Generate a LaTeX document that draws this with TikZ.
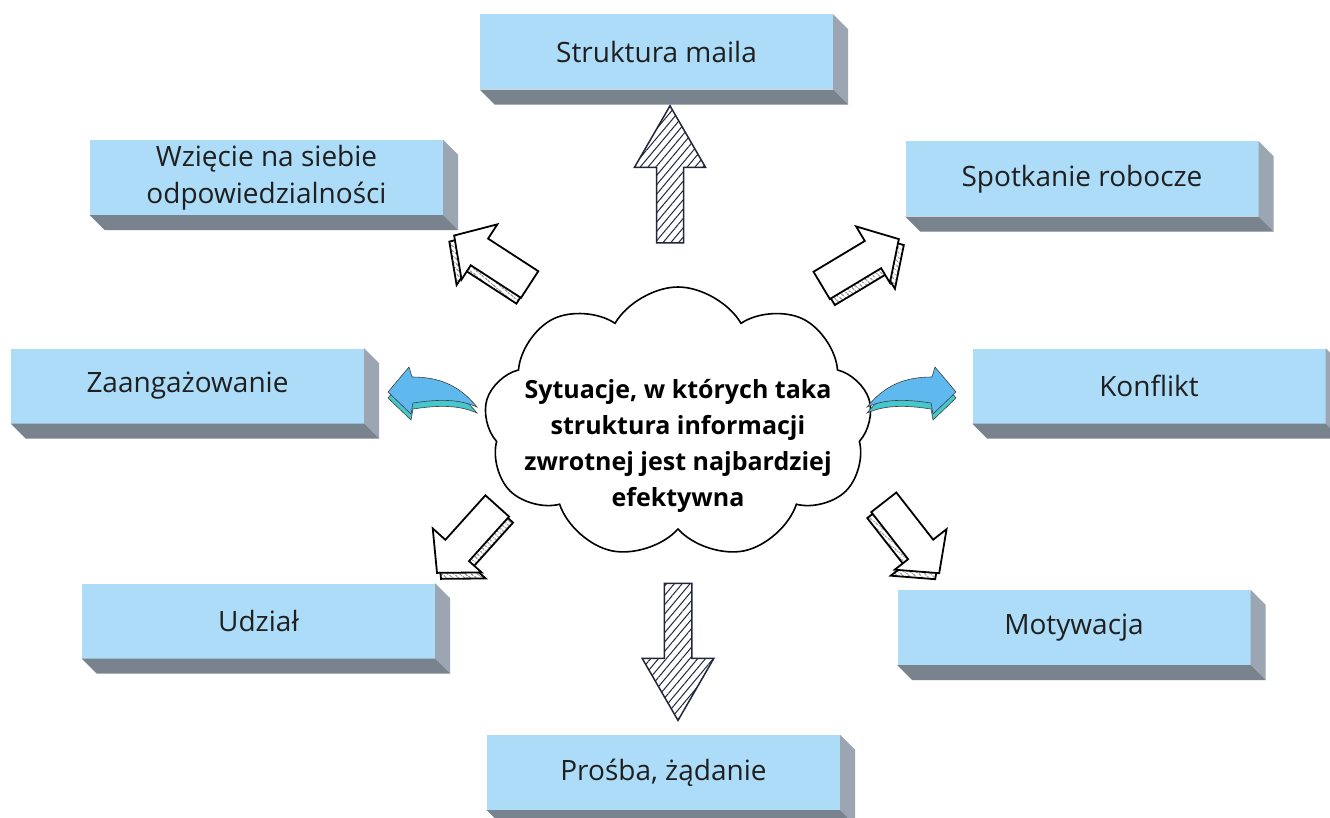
\documentclass[tikz,border=0pt]{standalone}
\usepackage{fontspec}
\setmainfont{Open Sans}
\usepackage{tikz}
\usetikzlibrary{shapes.symbols, shapes.arrows, patterns.meta, calc, positioning}
\definecolor{boxblue}{RGB}{173,220,248}
\definecolor{sidegray}{RGB}{155,166,178}
\definecolor{bottomgray}{RGB}{120,131,141}
\definecolor{sketchnavy}{RGB}{35,37,61}
\definecolor{arrowblue}{RGB}{95,184,238}
\definecolor{arrowteal}{RGB}{70,198,205}

\tikzset{
  curvarr/.pic={
    \filldraw[blueside, shift={(0,6)}] (0,0) .. controls (18,-22) and (38,-30) .. (65,-30)
      -- (68,-40) -- (89,-15) -- (66,7) -- (64,-4) .. controls (38,-8) and (18,-8) .. cycle;
    \filldraw[bluearr] (0,0) .. controls (18,-22) and (38,-30) .. (65,-30)
      -- (68,-40) -- (89,-15) -- (66,7) -- (64,-4) .. controls (38,-8) and (18,-8) .. cycle;
  }
}

\begin{document}
\begin{tikzpicture}[x=1pt, y=-1pt,
  topic/.style={fill=boxblue, minimum width=353pt, minimum height=75pt,
                inner sep=0pt, align=center, text=black!88,
                font=\fontsize{28}{37}\selectfont},
  bubble/.style={cloud, draw=black, line width=1.6pt, fill=white, cloud puffs=9,
                 cloud puff arc=120, aspect=1.4, minimum width=388pt, minimum height=272pt},
  bubbletext/.style={align=center, font=\fontsize{25}{36}\selectfont\bfseries},
  sketcharr/.style={single arrow, draw=sketchnavy, line width=1.5pt,
                    pattern={Lines[angle=50, distance=6pt, line width=1pt]}, pattern color=sketchnavy,
                    inner xsep=0pt, inner ysep=13pt, single arrow head extend=22pt,
                    single arrow tip angle=60, minimum height=137pt},
  blockarr/.style={single arrow, draw=black, line width=1.8pt, fill=white,
                   inner xsep=0pt, inner ysep=15pt, single arrow head extend=17pt,
                   single arrow tip angle=95, minimum height=90pt},
  blockside/.style={blockarr, pattern={Lines[angle=-40, distance=4pt, line width=0.9pt]},
                    pattern color=black},
  bluearr/.style={fill=arrowblue, draw=black!75, line width=0.6pt},
  blueside/.style={fill=arrowteal, draw=black!75, line width=0.6pt}
]
\useasboundingbox[fill=white] (0,0) rectangle (1330,818);

% centre
\node[bubble] (cloud) at (678,423) {};
\node[bubbletext] (question) at (678,446) {Sytuacje, w których taka\\struktura informacji\\zwrotnej jest najbardziej\\efektywna};

% topics
\node[topic] (mail)     at (656.5,52)  {Struktura maila};
\node[topic] (resp)     at (266.5,177.5) {Wzięcie na siebie\\odpowiedzialności};
\node[topic] (meet)     at (1082,179)  {Spotkanie robocze};
\node[topic] (engage)   at (187.5,386) {Zaangażowanie};
\node[topic] (conflict) at (1149,386)  {Konflikt};
\node[topic] (share)    at (258.5,621) {Udział};
\node[topic] (motiv)    at (1074,627.5) {Motywacja};
\node[topic] (request)  at (663.5,772.5) {Prośba, żądanie};

\foreach \n in {mail,resp,meet,engage,conflict,share,motiv,request} {
  \fill[sidegray] (\n.north east) -- ++(15,15) -- ($(\n.south east)+(15,15)$) -- (\n.south east) -- cycle;
  \fill[bottomgray] (\n.south west) -- ++(15,15) -- ($(\n.south east)+(15,15)$) -- (\n.south east) -- cycle;
}

% arrows
\node[sketcharr, rotate=90]  (toMail)    at (670,186) {};
\node[sketcharr, rotate=-90] (toRequest) at (678,640) {};

\node[blockside, xshift=-5pt, yshift=-6pt, rotate=147] (toRespS) at (498,264) {};
\node[blockarr, rotate=147] (toResp) at (498,264) {};
\node[blockside, xshift=5pt, yshift=-6pt, rotate=31] (toMeetS) at (854,266) {};
\node[blockarr, rotate=31] (toMeet) at (854,266) {};
\node[blockside, xshift=4pt, yshift=-6pt, rotate=228] (toShareS) at (472,534) {};
\node[blockarr, rotate=228] (toShare) at (472,534) {};
\node[blockside, xshift=-4pt, yshift=-6pt, rotate=-52] (toMotivS) at (907,532) {};
\node[blockarr, rotate=-52] (toMotiv) at (907,532) {};

\pic at (867,407) {curvarr};
\pic[xscale=-1] at (477,407) {curvarr};
\end{tikzpicture}
\end{document}
